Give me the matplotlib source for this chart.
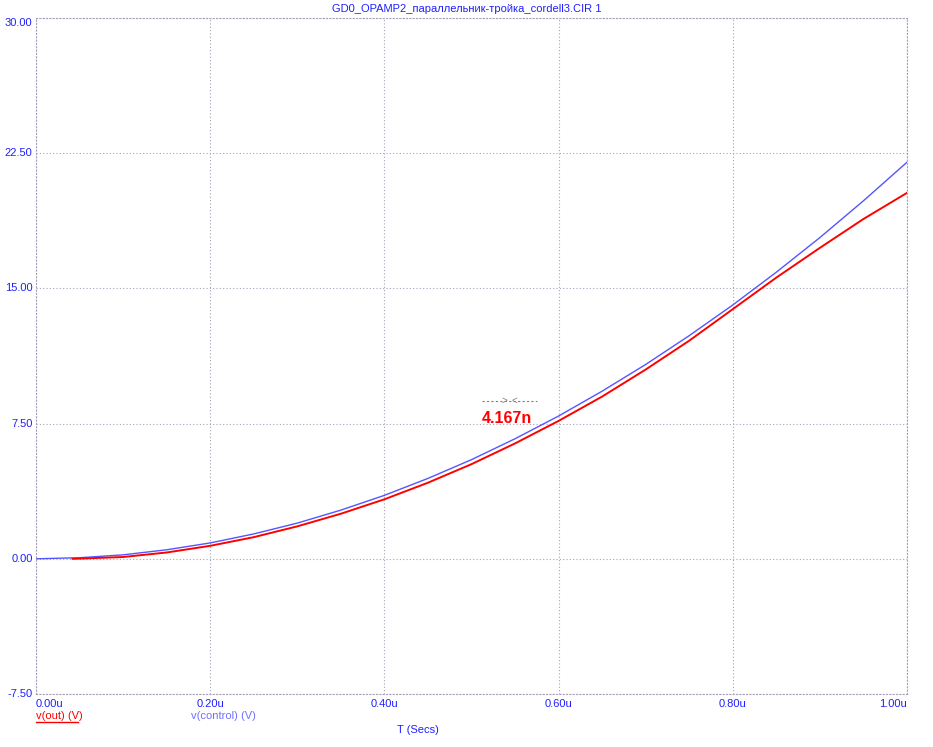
import matplotlib.pyplot as plt
from matplotlib.lines import Line2D

# time in microseconds
t_control = [0.0, 0.05, 0.10, 0.15, 0.20, 0.25, 0.30, 0.35, 0.40, 0.45, 0.50,
             0.55, 0.60, 0.65, 0.70, 0.75, 0.80, 0.85, 0.90, 0.95, 1.00]
v_control = [0.0, 0.06, 0.22, 0.50, 0.88, 1.38, 1.98, 2.70, 3.52, 4.46, 5.50,
             6.66, 7.92, 9.30, 10.78, 12.38, 14.08, 15.90, 17.82, 19.86, 22.0]

t_out = [0.042, 0.05, 0.10, 0.15, 0.20, 0.25, 0.30, 0.35, 0.40, 0.45, 0.50,
         0.55, 0.60, 0.65, 0.70, 0.75, 0.80, 0.85, 0.90, 0.95, 1.00]
v_out = [0.0, 0.01, 0.10, 0.35, 0.72, 1.20, 1.80, 2.50, 3.30, 4.22, 5.25,
         6.40, 7.65, 9.00, 10.50, 12.10, 13.85, 15.60, 17.25, 18.85, 20.3]

x_ticks = [0.0, 0.2, 0.4, 0.6, 0.8, 1.0]
x_tick_labels = ["0.00u", "0.20u", "0.40u", "0.60u", "0.80u", "1.00u"]
y_ticks = [-7.5, 0.0, 7.5, 15.0, 22.5, 30.0]
y_tick_labels = ["-7.50", "0.00", "7.50", "15.00", "22.50", "30.00"]

cursor_t = [0.512, 0.575]
cursor_v = 8.76
cursor_label = "4.167n"

plt.rcParams['font.family'] = ['Liberation Sans', 'DejaVu Sans']

txt_blue = "#2020ff"
line_blue = "#5555ff"
red = "#ff0000"
grid_col = "#a8a0b8"

fig = plt.figure(figsize=(9.33, 7.47), dpi=100)
ax = fig.add_axes([36 / 933, 1 - 694 / 747, (907 - 36) / 933, (694 - 18) / 747])

ax.plot(t_control, v_control, color=line_blue, linewidth=1.0)
ax.plot(t_out, v_out, color=red, linewidth=1.4)

ax.set_xlim(0, 1.0)
ax.set_ylim(-7.5, 30.0)
ax.set_xticks(x_ticks)
ax.set_yticks(y_ticks)
ax.set_xticklabels([])
ax.set_yticklabels([])
ax.tick_params(length=0)
ax.grid(True, color=grid_col, linestyle=(0, (1, 2)), linewidth=0.8)

for sp in ax.spines.values():
    sp.set_color(grid_col)
    sp.set_linestyle((0, (1, 2)))
    sp.set_linewidth(0.8)

# y tick labels
for v, lab in zip(y_ticks, y_tick_labels):
    va = "top" if v == 30.0 else "center"
    ax.text(-0.004, v, lab, transform=ax.get_yaxis_transform(), ha="right",
            va=va, color=txt_blue, fontsize=8)

# x tick labels
for t, lab in zip(x_ticks, x_tick_labels):
    ha = "left" if t == 0.0 else ("right" if t == 1.0 else "center")
    ax.text(t, -0.008, lab, transform=ax.get_xaxis_transform(), ha=ha,
            va="top", color=txt_blue, fontsize=8)

# cursor marker
ax.plot(cursor_t, [cursor_v, cursor_v], color="#808080", linestyle=(0, (2, 2)),
        linewidth=0.8)
mid = (cursor_t[0] + cursor_t[1]) / 2
ax.text(mid - 0.002, cursor_v, ">", color="#808080", fontsize=7,
        ha="right", va="center")
ax.text(mid + 0.002, cursor_v, "<", color="#808080", fontsize=7,
        ha="left", va="center")
ax.text(cursor_t[0], cursor_v - 1.0, cursor_label, color=red, fontsize=11.5,
        fontweight="bold", ha="left", va="center")

fig.text(467 / 933, 1 - 9 / 747, "GD0_OPAMP2_параллельник-тройка_cordell3.CIR 1",
         ha="center", va="center", color=txt_blue, fontsize=8)

fig.text(36 / 933, 1 - 716 / 747, "v(out) (V)", ha="left", va="center",
         color=red, fontsize=8)
fig.add_artist(Line2D([36 / 933, 78 / 933], [1 - 722 / 747, 1 - 722 / 747],
                      color=red, linewidth=1.0, transform=fig.transFigure))
fig.text(191 / 933, 1 - 716 / 747, "v(control) (V)", ha="left", va="center",
         color="#7070ff", fontsize=8)
fig.text(418 / 933, 1 - 730 / 747, "T (Secs)", ha="center", va="center",
         color=txt_blue, fontsize=8)

fig.savefig("out.png", dpi=100)
